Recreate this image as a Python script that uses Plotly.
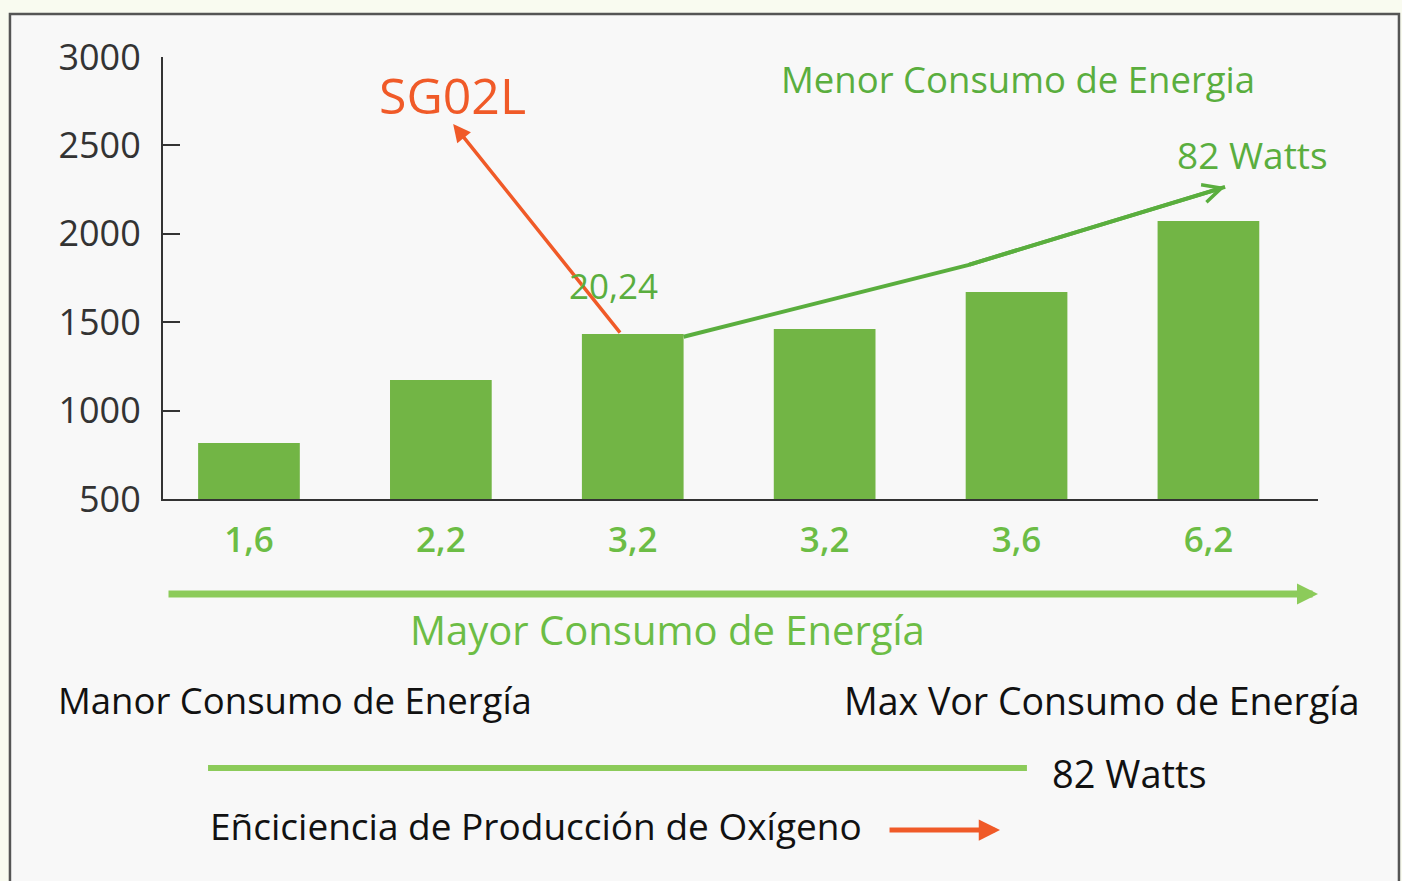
import plotly.graph_objects as go

# ---- data ----
categories = ["1,6", "2,2", "3,2", "3,2", "3,6", "6,2"]
values = [817, 1173, 1433, 1462, 1671, 2072]
y_ticks = [500, 1000, 1500, 2000, 2500, 3000]

# trend arrow (green) waypoints in data units
trend_x = [2.265, 3.747, 5.087]
trend_y = [1418, 1823, 2265]
# orange arrow from 3rd bar top to label
sg_tail = (1.94, 1433)
sg_head = (1.064, 2621)

GREEN_BAR = "#72b545"
GREEN_TXT = "#5aae3e"
GREEN_LIGHT = "#8ccb5a"
ORANGE = "#f05a28"
DARK = "#333333"
FONT = "Open Sans"

x_idx = list(range(len(categories)))

fig = go.Figure()
fig.add_trace(go.Bar(
    x=x_idx, y=values, width=0.53,
    marker=dict(color=GREEN_BAR, line=dict(width=0)),
    hoverinfo="skip", showlegend=False,
))
fig.add_trace(go.Scatter(
    x=trend_x, y=trend_y, mode="lines",
    line=dict(color=GREEN_TXT, width=4), hoverinfo="skip", showlegend=False,
))

annotations = []
annotations.append(dict(
    x=trend_x[2], y=trend_y[2], ax=trend_x[1], ay=trend_y[1],
    xref="x", yref="y", axref="x", ayref="y", text="",
    showarrow=True, arrowhead=5, arrowsize=0.9, arrowwidth=4,
    arrowcolor=GREEN_TXT, standoff=0,
))
annotations.append(dict(
    x=sg_head[0], y=sg_head[1], ax=sg_tail[0], ay=sg_tail[1],
    xref="x", yref="y", axref="x", ayref="y", text="",
    showarrow=True, arrowhead=2, arrowsize=1.0, arrowwidth=3.5,
    arrowcolor=ORANGE, standoff=0,
))


def txt(x, y, text, size, color, xref="paper", yref="paper", xanchor="center", weight=400):
    return dict(x=x, y=y, xref=xref, yref=yref, text=text, showarrow=False,
                xanchor=xanchor, yanchor="middle",
                font=dict(family=FONT, size=size, color=color, weight=weight))


annotations += [
    txt(1.06, 2785, "SG02L", 50, ORANGE, "x", "y", weight=500),
    txt(1.90, 1710, "20,24", 35, GREEN_TXT, "x", "y"),
    txt(4.01, 2876, "Menor Consumo de Energia", 36.5, GREEN_TXT, "x", "y"),
    txt(5.23, 2451, "82 Watts", 37, GREEN_TXT, "x", "y"),
]
annotations.append(dict(
    x=1.0, y=-0.2149, xref="paper", yref="paper", ax=-1151, ay=0,
    axref="pixel", ayref="pixel", text="", showarrow=True, arrowhead=2,
    arrowsize=0.6, arrowwidth=7, arrowcolor=GREEN_LIGHT, standoff=0,
))
annotations += [
    txt(0.437, -0.296, "Mayor Consumo de Energía", 40, "#6cbd45"),
    txt(-0.0926, -0.4548, "Manor Consumo de Energía", 36.5, "#111111", xanchor="left"),
    txt(1.0381, -0.4548, "Max Vor Consumo de Energía", 37.5, "#111111", xanchor="right"),
    txt(0.768, -0.6199, "82 Watts", 38, "#111111", xanchor="left"),
    txt(0.039, -0.7398, "Eñciciencia de Producción de Oxígeno", 37, "#111111", xanchor="left"),
]
annotations.append(dict(
    x=0.7247, y=-0.7489, xref="paper", yref="paper", ax=-112, ay=0,
    axref="pixel", ayref="pixel", text="", showarrow=True, arrowhead=2,
    arrowsize=0.85, arrowwidth=5, arrowcolor=ORANGE, standoff=0,
))

shapes = [
    dict(type="rect", xref="paper", yref="paper", x0=-0.1325, x1=1.0701,
         y0=-0.95, y1=1.0973, fillcolor="#f8f8f8",
         line=dict(color="#555555", width=2.5), layer="below"),
    dict(type="line", xref="paper", yref="paper", x0=0.039, x1=0.748,
         y0=-0.6086, y1=-0.6086, line=dict(color=GREEN_LIGHT, width=6)),
]

fig.update_layout(
    width=1402, height=881,
    margin=dict(l=163, r=84, t=57, b=382),
    paper_bgcolor="#f9fbf0",
    plot_bgcolor="rgba(0,0,0,0)",
    font=dict(family=FONT),
    annotations=annotations,
    shapes=shapes,
    showlegend=False,
)
fig.update_xaxes(
    range=[-0.448, 5.571], tickmode="array", tickvals=x_idx, ticktext=categories,
    showline=True, linecolor=DARK, linewidth=2, showgrid=False, zeroline=False,
    ticks="", tickfont=dict(family=FONT, size=35, color="#6cbd45", weight=600),
    ticklabelstandoff=9, fixedrange=True,
)
fig.update_yaxes(
    range=[500, 3000], tickmode="array", tickvals=y_ticks,
    showline=True, linecolor=DARK, linewidth=2, showgrid=False, zeroline=False,
    ticks="inside", ticklen=17, tickwidth=2, tickcolor=DARK,
    tickfont=dict(family=FONT, size=36, color=DARK),
    ticklabelstandoff=13, fixedrange=True,
)

fig.write_html(
    "out.html",
    config={"displayModeBar": False},
    post_script="document.body.style.margin='0';document.body.style.overflow='hidden';document.body.style.background='#f9fbf0';",
)
